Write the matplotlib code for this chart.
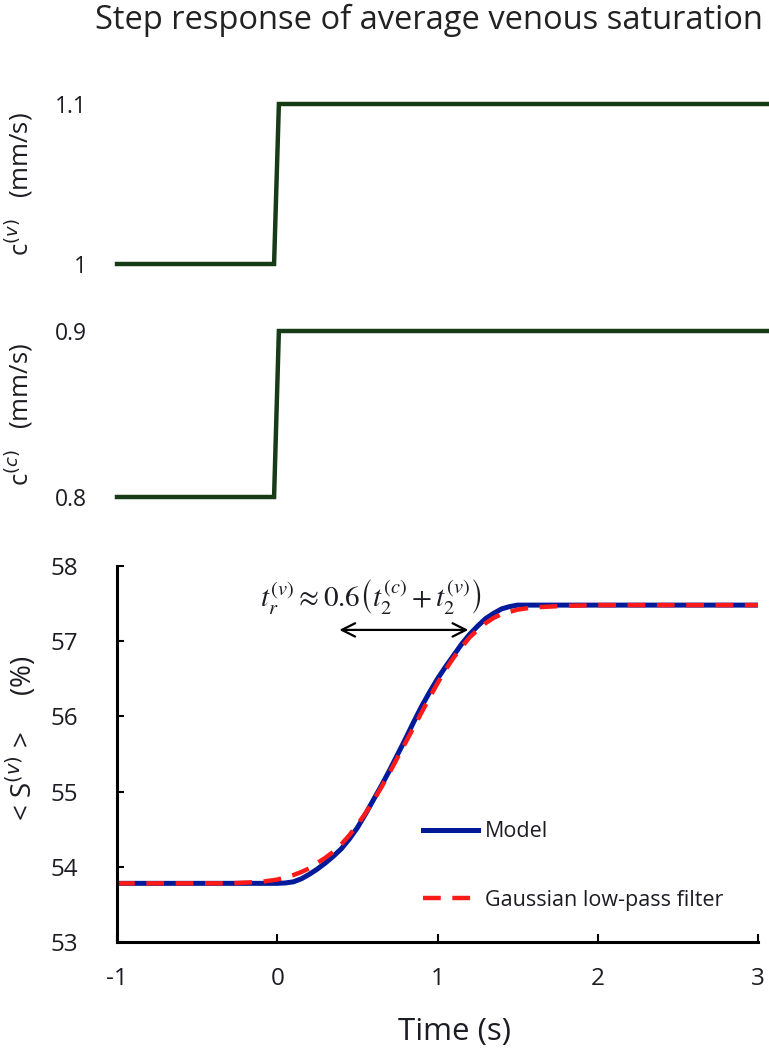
#!/usr/bin/env python3
# -*- coding: utf-8 -*-
"""
Step response of average venous saturation
three stacked panels: c(v) step, c(c) step, <S(v)> response
"""

import numpy as np
import matplotlib
matplotlib.use('Agg')
import matplotlib.pyplot as plt

plt.rcParams['font.family'] = ['Open Sans', 'DejaVu Sans']
plt.rcParams['axes.unicode_minus'] = False
plt.rcParams['mathtext.fontset'] = 'stix'

# ---- data ----
step_t = [-1, -0.02, 0.01, 3.07]
cv_vals = [1.0, 1.0, 1.1, 1.1]
cc_vals = [0.8, 0.8, 0.9, 0.9]

model_t = [-1, 0, 0.05, 0.1, 0.15, 0.2, 0.25, 0.3, 0.35, 0.4, 0.45, 0.5, 0.55,
           0.6, 0.65, 0.7, 0.75, 0.8, 0.85, 0.9, 0.95, 1.0, 1.05, 1.1, 1.15,
           1.2, 1.25, 1.3, 1.35, 1.4, 1.45, 1.5, 1.55, 3]
model_s = [53.78, 53.78, 53.785, 53.80, 53.84, 53.90, 53.97, 54.05, 54.14,
           54.24, 54.37, 54.52, 54.70, 54.89, 55.08, 55.28, 55.49, 55.70, 55.92,
           56.13, 56.32, 56.50, 56.66, 56.81, 56.96, 57.09, 57.20, 57.30, 57.37,
           57.43, 57.46, 57.48, 57.48, 57.48]

gauss_t = [-1, -0.3, -0.2, -0.1, 0, 0.05, 0.1, 0.15, 0.2, 0.25, 0.3, 0.35, 0.4,
           0.45, 0.5, 0.55, 0.6, 0.65, 0.7, 0.75, 0.8, 0.85, 0.9, 0.95, 1.0,
           1.05, 1.1, 1.15, 1.2, 1.25, 1.3, 1.35, 1.4, 1.5, 1.6, 1.8, 2.0, 3]
gauss_s = [53.78, 53.78, 53.79, 53.80, 53.83, 53.86, 53.89, 53.93, 53.98,
           54.05, 54.12, 54.20, 54.30, 54.42, 54.56, 54.71, 54.88, 55.06, 55.25,
           55.45, 55.65, 55.85, 56.05, 56.25, 56.44, 56.62, 56.78, 56.92, 57.05,
           57.15, 57.24, 57.31, 57.36, 57.42, 57.45, 57.47, 57.48, 57.48]

x_ticks = [-1, 0, 1, 2, 3]
s_ticks = [53, 54, 55, 56, 57, 58]

W, H = 769, 1050
TXT = '#1c1c24'
GREEN = '#173a17'


def px_axes(fig, left, top, right, bottom):
    """像素坐标 -> figure fraction"""
    return fig.add_axes([left / W, 1 - bottom / H, (right - left) / W, (bottom - top) / H])


def step_panel(ax, vals, ticks, label):
    ax.plot(step_t, vals, color=GREEN, linewidth=3.2, solid_joinstyle='miter', clip_on=False)
    ax.set_xlim(-1, 3.068)
    ax.set_ylim(ticks[0], ticks[-1])
    ax.set_yticks(ticks)
    ax.set_yticklabels([f'{t:g}' for t in ticks])
    ax.set_xticks([])
    for s in ax.spines.values():
        s.set_visible(False)
    ax.tick_params(axis='y', length=0, pad=22, labelsize=16.5, labelcolor=TXT)
    ax.set_ylabel(label, fontsize=18.5, color=TXT, labelpad=14,
                  math_fontfamily='dejavusans')


def main():
    fig = plt.figure(figsize=(W / 100, H / 100), dpi=100)

    fig.text(0.558, 1 - 20 / H, 'Step response of average venous saturation',
             ha='center', va='center', fontsize=23.5, color='#222222')

    # 上面两个阶跃面板
    ax1 = px_axes(fig, 117, 104, 769, 264)
    step_panel(ax1, cv_vals, [1.0, 1.1], r'c$^{(v)}$   (mm/s)')

    ax2 = px_axes(fig, 117, 331, 769, 497)
    step_panel(ax2, cc_vals, [0.8, 0.9], r'c$^{(c)}$   (mm/s)')

    # 饱和度响应
    ax3 = px_axes(fig, 117, 566, 758, 942)
    ax3.plot(model_t, model_s, color='#001a99', linewidth=3.6, label='Model')
    ax3.plot(gauss_t, gauss_s, color='#ff1a1a', linewidth=3.2, linestyle=(0, (4.0, 2.6)),
             label='Gaussian low-pass filter')
    ax3.set_xlim(-1, 3)
    ax3.set_ylim(53, 58)
    ax3.set_xticks(x_ticks)
    ax3.set_yticks(s_ticks)
    ax3.set_xticklabels([str(t) for t in x_ticks])
    for side in ['top', 'right']:
        ax3.spines[side].set_visible(False)
    for side in ['left', 'bottom']:
        ax3.spines[side].set_linewidth(2.2)
        ax3.spines[side].set_color('black')
    ax3.tick_params(axis='x', direction='in', length=6, width=1.5, pad=18,
                    labelsize=17.5, labelcolor=TXT)
    ax3.tick_params(axis='y', direction='in', length=5, width=1.5, pad=28,
                    labelsize=17.5, labelcolor=TXT)

    ax3.annotate('', xy=(0.37, 57.15), xytext=(1.21, 57.15),
                 arrowprops=dict(arrowstyle='<->', color='black', lw=1.6,
                                 mutation_scale=24))
    ax3.text(0.58, 57.6, r'$t_r^{(v)}\approx 0.6\left(t_2^{(c)}+t_2^{(v)}\right)$',
             ha='center', va='center', fontsize=21, color=TXT)

    ax3.legend(loc='center left', bbox_to_anchor=(0.477, 0.202), frameon=False,
               fontsize=15.5, handlelength=2.55, handletextpad=0.35, labelspacing=2.2,
               borderpad=0, borderaxespad=0, labelcolor=TXT)

    fig.text(22 / W, 1 - 738 / H, r'< S$^{(v)}$ >     (%)', rotation=90,
             ha='center', va='center', fontsize=20, color=TXT,
             math_fontfamily='dejavusans')
    fig.text(454 / W, 1 - 1032 / H, 'Time (s)', ha='center', va='center',
             fontsize=22.5, color=TXT)

    fig.savefig('out.png', dpi=100)


if __name__ == "__main__":
    main()
